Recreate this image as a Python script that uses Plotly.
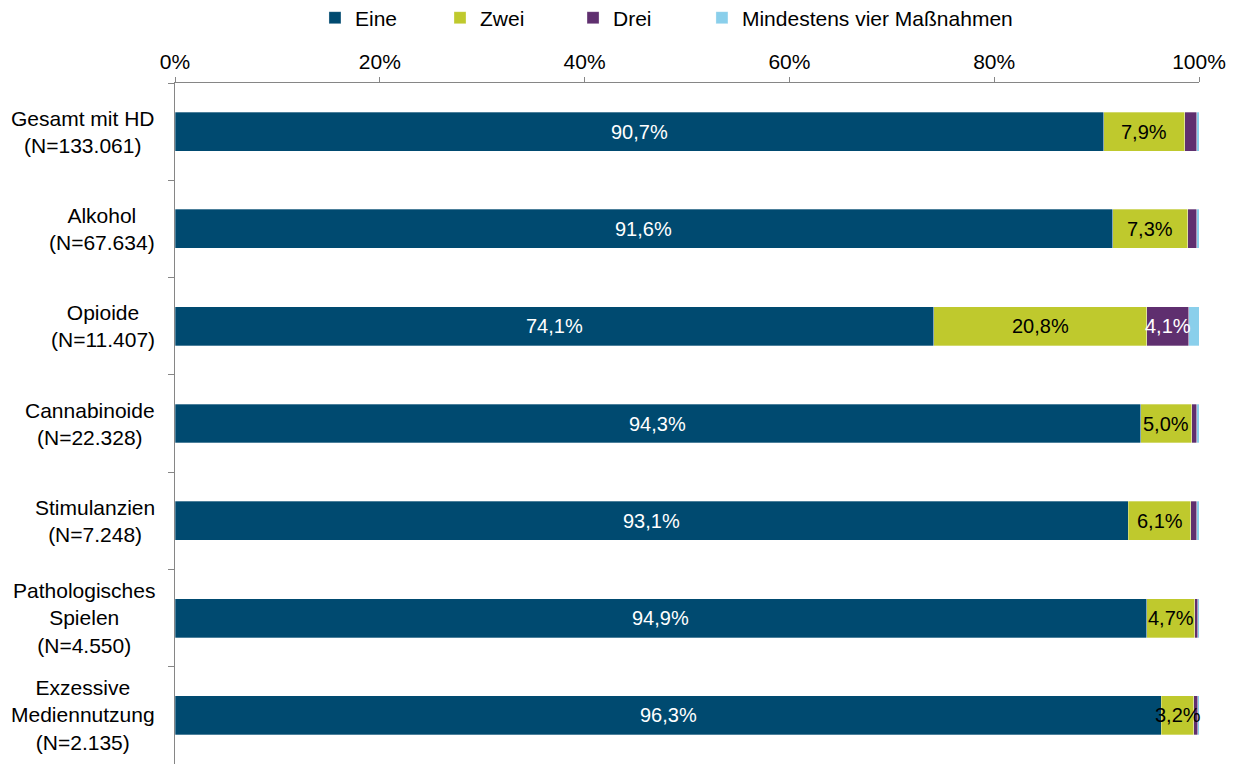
import plotly.graph_objects as go

categories = [
    "Gesamt mit HD<br>(N=133.061)",
    "Alkohol<br>(N=67.634)",
    "Opioide<br>(N=11.407)",
    "Cannabinoide<br>(N=22.328)",
    "Stimulanzien<br>(N=7.248)",
    "Pathologisches<br>Spielen<br>(N=4.550)",
    "Exzessive<br>Mediennutzung<br>(N=2.135)",
]
eine = [90.7, 91.6, 74.1, 94.3, 93.1, 94.9, 96.3]
zwei = [7.9, 7.3, 20.8, 5.0, 6.1, 4.7, 3.2]
drei = [1.2, 0.9, 4.1, 0.5, 0.6, 0.3, 0.4]
vier = [0.2, 0.2, 1.0, 0.2, 0.2, 0.1, 0.1]
series_names = ["Eine", "Zwei", "Drei", "Mindestens vier Maßnahmen"]
colors = ["#004A70", "#BFC92D", "#5F2F6F", "#8ACFEB"]
label_colors = ["white", "black", "white", None]
show_min = [0, 0, 3.0, 100]  # minimum value for which a label is shown
legend_ids = ["legend", "legend2", "legend3", "legend4"]
legend_x = [0.1367, 0.2588, 0.3887, 0.5146]

FONT = "Liberation Sans, Arial, sans-serif"

fig = go.Figure()
all_series = [eine, zwei, drei, vier]
for name, vals, col, lg in zip(series_names, all_series, colors, legend_ids):
    fig.add_trace(go.Bar(
        y=categories, x=vals, name=name, orientation="h",
        marker=dict(color=col, line=dict(color="rgba(255,255,255,0.6)", width=0.5)),
        width=0.4, hoverinfo="x+name", legend=lg,
    ))

annotations = []
for i, cat in enumerate(categories):
    cum = 0
    for s, vals in enumerate(all_series):
        v = vals[i]
        if label_colors[s] and v >= show_min[s]:
            annotations.append(dict(
                x=cum + v / 2, y=cat, xref="x", yref="y",
                text=f"{v:.1f}%".replace(".", ","), showarrow=False,
                font=dict(family=FONT, size=20, color=label_colors[s]),
                xanchor="center", yanchor="middle",
            ))
        cum += v
    annotations.append(dict(
        x=-0.0176, y=cat, xref="paper", yref="y", text=cat, showarrow=False,
        xanchor="right", yanchor="middle", align="center",
        font=dict(family=FONT, size=21, color="black"),
    ))

legend_common = dict(orientation="h", yref="container", y=1 - 10 / 756, yanchor="middle",
                     xanchor="left", font=dict(family=FONT, size=21, color="black"),
                     bgcolor="rgba(0,0,0,0)", itemwidth=30)
layout_legends = {}
for lg, lx in zip(legend_ids, legend_x):
    layout_legends[lg] = dict(legend_common, x=lx)

fig.update_layout(
    barmode="stack",
    width=1228, height=756,
    margin=dict(l=167, r=37, t=75, b=0),
    paper_bgcolor="white", plot_bgcolor="white",
    font=dict(family=FONT, size=21, color="black"),
    annotations=annotations,
    showlegend=True,
    **layout_legends,
)
fig.update_xaxes(
    range=[0, 100], side="top", tickvals=[0, 20, 40, 60, 80, 100],
    ticktext=["0%", "20%", "40%", "60%", "80%", "100%"],
    showline=True, linecolor="#868686", linewidth=1,
    ticks="outside", ticklen=5, tickcolor="#868686",
    showgrid=False, zeroline=False, tickfont=dict(family=FONT, size=21), fixedrange=True,
)
fig.update_yaxes(
    autorange="reversed", showticklabels=False,
    showline=True, linecolor="#868686", linewidth=1,
    ticks="outside", ticklen=6, tickcolor="#868686", tickson="boundaries",
    showgrid=False, zeroline=False,
)

fig.write_html("out.html")
